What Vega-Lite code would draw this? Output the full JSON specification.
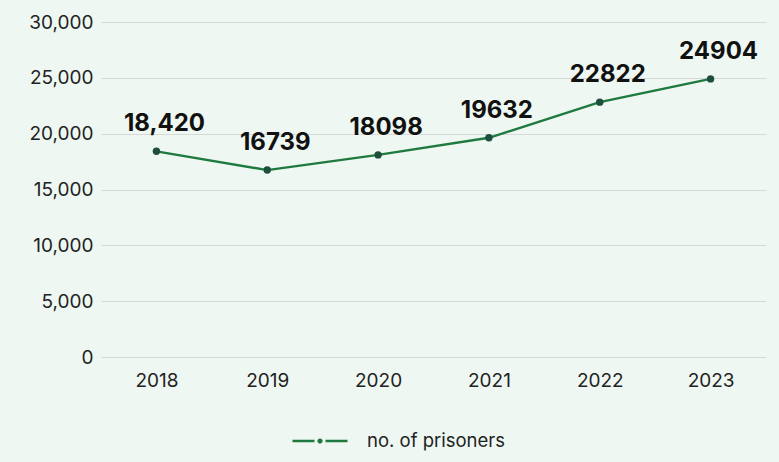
{
  "$schema": "https://vega.github.io/schema/vega-lite/v6.json",
  "width": 665,
  "height": 335,
  "autosize": "none",
  "padding": {"left": 101, "top": 22, "right": 13, "bottom": 105},
  "background": "#eef7f1",
  "config": {
    "view": {"stroke": null},
    "font": "Inter",
    "axis": {"labelFont": "Inter", "labelFontSize": 19, "labelColor": "#222222", "domain": false, "ticks": false, "titleFontSize": 0}
  },
  "data": {
    "values": [
      {"year": "2018", "prisoners": 18420, "label": "18,420"},
      {"year": "2019", "prisoners": 16739, "label": "16739"},
      {"year": "2020", "prisoners": 18098, "label": "18098"},
      {"year": "2021", "prisoners": 19632, "label": "19632"},
      {"year": "2022", "prisoners": 22822, "label": "22822"},
      {"year": "2023", "prisoners": 24904, "label": "24904"}
    ]
  },
  "encoding": {
    "x": {"field": "year", "type": "ordinal", "title": null, "axis": {"labelAngle": 0, "labelPadding": 14, "grid": false}},
    "y": {"field": "prisoners", "type": "quantitative", "title": null, "scale": {"domain": [0, 30000], "nice": false}, "axis": {"values": [0, 5000, 10000, 15000, 20000, 25000, 30000], "format": ",d", "labelPadding": 8, "gridColor": "#d6d9d7", "gridWidth": 1}}
  },
  "layer": [
    {
      "mark": {"type": "line", "strokeWidth": 2.4},
      "encoding": {
        "stroke": {"datum": "no. of prisoners", "type": "nominal", "scale": {"range": ["#1e7a3e"]}, "legend": {"title": null, "orient": "none", "legendX": 190, "legendY": 390, "symbolType": "M-1,0L-0.2,0M0.2,0L1,0M-0.05,0A0.05,0.05 0 1,0 0.05,0A0.05,0.05 0 1,0 -0.05,0Z", "symbolSize": 3025, "symbolStrokeColor": "#1d4f3c", "symbolFillColor": "#3cc46a", "symbolStrokeWidth": 2.5, "labelFontSize": 18.5, "labelFont": "Inter", "labelColor": "#222222", "labelOffset": 18}}
      }
    },
    {
      "mark": {"type": "point", "filled": true, "size": 55, "color": "#1d4f3c", "opacity": 1}
    },
    {
      "mark": {"type": "text", "fontSize": 24, "fontWeight": "bold", "color": "#111111", "dy": -20, "dx": 8, "baseline": "alphabetic", "font": "Inter"},
      "encoding": {"text": {"field": "label"}}
    }
  ]
}
